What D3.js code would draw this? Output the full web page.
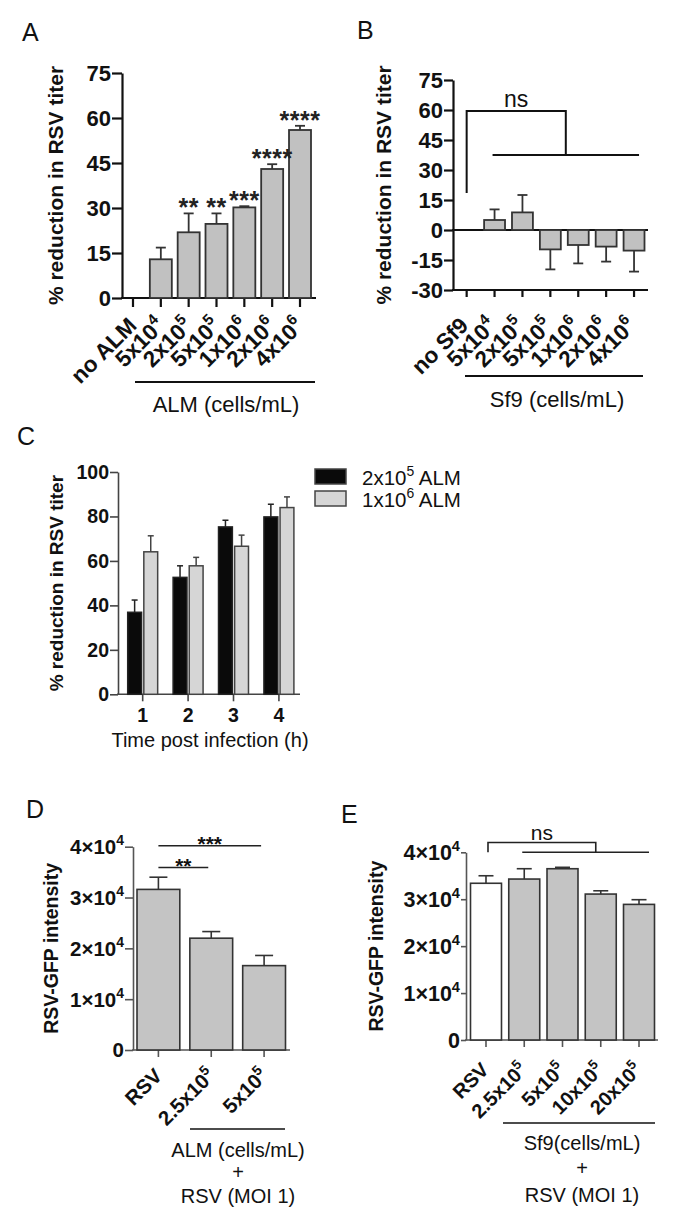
<!DOCTYPE html>
<html>
<head>
<meta charset="utf-8">
<script src="https://cdn.jsdelivr.net/npm/d3@7"></script>
<style>
  body { margin: 0; background: #fff; }
  svg { display: block; font-family: 'Liberation Sans', Arial, sans-serif; }
  text { white-space: pre; }
</style>
</head>
<body>
<svg width="675" height="1229"></svg>
<script>
// panel A - ALM dose
var aCats = ['no ALM', '5x10^4', '2x10^5', '5x10^5', '1x10^6', '2x10^6', '4x10^6'];
var aMeans = [0, 12.9, 21.9, 24.7, 30.2, 43.0, 56.0];
var aErr = [0, 3.9, 6.3, 3.5, 0.4, 1.6, 1.4];
var aStars = ['', '', '**', '**', '***', '****', '****'];
var aTicks = [0, 15, 30, 45, 60, 75];

// panel B - Sf9 dose
var bCats = ['no Sf9', '5x10^4', '2x10^5', '5x10^5', '1x10^6', '2x10^6', '4x10^6'];
var bMeans = [0, 5.0, 8.8, -9.7, -7.5, -8.3, -10.3];
var bErr = [0, 5.3, 8.7, 10.0, 9.2, 7.5, 10.5];
var bTicks = [-30, -15, 0, 15, 30, 45, 60, 75];

// panel C - time course
var cHours = ['1', '2', '3', '4'];
var cSeries = ['2x10^5 ALM', '1x10^6 ALM'];
var cLow = [36.9, 52.6, 75.3, 79.8];
var cLowErr = [5.5, 5.2, 3.0, 5.7];
var cHigh = [64.1, 57.8, 66.6, 84.0];
var cHighErr = [7.2, 3.8, 5.0, 4.8];
var cTicks = [0, 20, 40, 60, 80, 100];

// panel D - GFP intensity, ALM
var dCats = ['RSV', '2.5x10^5', '5x10^5'];
var dMeans = [31600, 22000, 16600];
var dErr = [2400, 1300, 2000];
var dTicks = [0, 10000, 20000, 30000, 40000];
var dSigFrom = ['RSV', 'RSV'];
var dSigTo = ['2.5x10^5', '5x10^5'];
var dSigLevel = [35900, 40200];
var dSigLabel = ['**', '***'];

// panel E - GFP intensity, Sf9
var eCats = ['RSV', '2.5x10^5', '5x10^5', '10x10^5', '20x10^5'];
var eMeans = [33400, 34300, 36500, 31100, 28900];
var eErr = [1600, 2200, 300, 700, 1000];
var eTicks = [0, 10000, 20000, 30000, 40000];

var svg = d3.select('svg');

// "5x10^4" -> 5x10 with a raised 4
function addSup(t, str, fs) {
  var m = str.match(/^([^\^]*)\^(\S+)(.*)$/);
  if (!m) { t.text(str); return; }
  t.append('tspan').text(m[1]);
  t.append('tspan').attr('dy', -0.42 * fs).attr('font-size', fs * 0.68).text(m[2]);
  if (m[3]) t.append('tspan').attr('dy', 0.42 * fs).text(m[3]);
}

function sciFmt(v) { return v === 0 ? '0' : (v / 10000) + '\u00d710^4'; }

function yAxis(y, ticks, x, o) {
  var g = svg.append('g').attr('transform', 'translate(' + x + ',0)');
  g.call(d3.axisLeft(y).tickValues(ticks).tickSize(o.tick).tickSizeOuter(0).tickFormat(''));
  g.select('.domain').attr('stroke', o.color).attr('stroke-width', o.sw);
  g.selectAll('.tick line').attr('stroke', o.color).attr('stroke-width', o.sw);
  g.selectAll('text.lbl').data(ticks).enter().append('text')
    .attr('class', 'lbl')
    .attr('x', -o.tick - 1)
    .attr('y', d => y(d))
    .attr('dy', '0.36em')
    .attr('text-anchor', 'end')
    .attr('font-weight', 'bold')
    .attr('font-size', o.fs)
    .attr('fill', '#111')
    .each(function (d) { addSup(d3.select(this), o.fmt ? o.fmt(d) : String(d), o.fs); });
}

function hLine(x1, x2, yy, sw, color) {
  svg.append('line').attr('x1', x1).attr('x2', x2).attr('y1', yy).attr('y2', yy)
    .attr('stroke', color || '#111').attr('stroke-width', sw);
}

function xTicks(x, cats, yy, len, sw, color) {
  svg.append('g').selectAll('line').data(cats).enter().append('line')
    .attr('x1', c => x(c) + x.bandwidth() / 2).attr('x2', c => x(c) + x.bandwidth() / 2)
    .attr('y1', yy).attr('y2', yy + len)
    .attr('stroke', color).attr('stroke-width', sw);
}

function rotLabels(x, cats, dx, yy, fs) {
  svg.append('g').selectAll('text').data(cats).enter().append('text')
    .attr('transform', c => 'translate(' + (x(c) + x.bandwidth() / 2 + dx) + ',' + yy + ') rotate(-45)')
    .attr('text-anchor', 'end')
    .attr('font-weight', 'bold')
    .attr('font-size', fs)
    .attr('fill', '#111')
    .each(function (c) { addSup(d3.select(this), c, fs); });
}

function bars(x, y, cats, vals, errs, o) {
  var g = svg.append('g');
  var idx = d3.range(cats.length).filter(i => vals[i] !== 0);
  var w = o.width || x.bandwidth();
  var off = o.sub || 0;
  g.selectAll('rect').data(idx).enter().append('rect')
    .attr('x', i => x(cats[i]) + off)
    .attr('width', w)
    .attr('y', i => y(Math.max(0, vals[i])))
    .attr('height', i => Math.abs(y(vals[i]) - y(0)))
    .attr('fill', i => (typeof o.fill === 'function' ? o.fill(i) : o.fill))
    .attr('stroke', o.stroke).attr('stroke-width', o.sw);
  var cx = i => x(cats[i]) + off + w / 2;
  var tip = i => y(vals[i] + (vals[i] < 0 ? -errs[i] : errs[i]));
  g.selectAll('line.err').data(idx).enter().append('line')
    .attr('class', 'err')
    .attr('x1', cx).attr('x2', cx)
    .attr('y1', i => y(vals[i])).attr('y2', tip)
    .attr('stroke', o.stroke).attr('stroke-width', o.sw);
  g.selectAll('line.cap').data(idx).enter().append('line')
    .attr('class', 'cap')
    .attr('x1', i => cx(i) - o.cap / 2).attr('x2', i => cx(i) + o.cap / 2)
    .attr('y1', tip).attr('y2', tip)
    .attr('stroke', o.stroke).attr('stroke-width', o.sw);
}

function label(txt, x, y, fs, opts) {
  opts = opts || {};
  var t = svg.append('text').attr('x', x).attr('y', y)
    .attr('font-size', fs)
    .attr('text-anchor', opts.anchor || 'middle')
    .attr('font-weight', opts.bold ? 'bold' : 'normal')
    .attr('fill', '#111');
  if (opts.rotate) t.attr('transform', 'rotate(-90,' + x + ',' + y + ')');
  addSup(t, txt, fs);
  return t;
}

// ---------------- panel A ----------------
var yA = d3.scaleLinear().domain([0, 75]).range([298, 73]);
var xA = d3.scaleBand().domain(aCats).range([122, 311]).paddingInner(0.21);
label('A', 22, 41, 25, { anchor: 'start' });
yAxis(yA, aTicks, 122, { tick: 10, sw: 2.2, fs: 22, color: '#111' });
hLine(121, 316, yA(0), 2.2);
xTicks(xA, aCats, yA(0), 9, 2.2, '#111');
bars(xA, yA, aCats, aMeans, aErr, { fill: '#c1c1c1', stroke: '#333', sw: 1.8, cap: 10 });
svg.append('g').selectAll('text').data(aCats).enter().append('text')
  .attr('x', c => xA(c) + xA.bandwidth() / 2)
  .attr('y', (c, i) => yA(aMeans[i] + aErr[i]) + 3)
  .attr('text-anchor', 'middle')
  .attr('font-size', 25)
  .attr('font-weight', 'bold')
  .attr('letter-spacing', 0.5)
  .attr('fill', '#222')
  .text((c, i) => aStars[i]);
rotLabels(xA, aCats, 5, 327, 22.5);
hLine(135, 315, 382, 1.8);
label('ALM (cells/mL)', 226, 412, 22);
label('% reduction in RSV titer', 63, (yA(0) + yA(75)) / 2, 21, { rotate: true, bold: true });

// ---------------- panel B ----------------
var yB = d3.scaleLinear().domain([-30, 75]).range([290, 80]);
var xB = d3.scaleBand().domain(bCats).range([456.2, 644.5]).paddingInner(0.25);
label('B', 357, 39, 25, { anchor: 'start' });
yAxis(yB, bTicks, 453, { tick: 9, sw: 2.2, fs: 22, color: '#111' });
hLine(452, 648, yB(0), 2.2);
hLine(452, 648, yB(-30), 2.2);
xTicks(xB, bCats, yB(-30), 7, 2.2, '#111');
bars(xB, yB, bCats, bMeans, bErr, { fill: '#c1c1c1', stroke: '#333', sw: 1.8, cap: 10 });
(function () {
  var c0 = xB(bCats[0]) + xB.bandwidth() / 2;
  var l0 = xB(bCats[1]) + xB.bandwidth() / 2 - 2;
  var l1 = xB(bCats[bCats.length - 1]) + xB.bandwidth() / 2 + 5;
  var mid = (l0 + l1) / 2;
  var low = yB(37.5), top = yB(59.5);
  svg.append('path')
    .attr('d', 'M' + c0 + ',' + yB(18.5) + 'V' + top + 'H' + mid + 'V' + low)
    .attr('fill', 'none').attr('stroke', '#111').attr('stroke-width', 2);
  hLine(l0, l1, low, 2);
  label('ns', (c0 + mid) / 2, top - 4, 23);
})();
rotLabels(xB, bCats, 3, 327, 22.5);
hLine(465, 643, 376, 1.8);
label('Sf9 (cells/mL)', 557, 407, 22);
label('% reduction in RSV titer', 391, (yB(-30) + yB(75)) / 2, 21, { rotate: true, bold: true });

// ---------------- panel C ----------------
var yC = d3.scaleLinear().domain([0, 100]).range([694.3, 472]);
var xC = d3.scaleBand().domain(cHours).range([127.7, 293.9]).paddingInner(0.34);
var xC2 = d3.scaleBand().domain(cSeries).range([0, xC.bandwidth()]).paddingInner(0.14);
var cColors = ['#0a0a0a', '#d6d6d6'];
label('C', 17, 445, 25, { anchor: 'start' });
yAxis(yC, cTicks, 118, { tick: 8, sw: 1.6, fs: 19.5, color: '#444' });
hLine(117, 300, yC(0), 1.6, '#444');
xTicks(xC, cHours, yC(0), 7, 1.6, '#444');
bars(xC, yC, cHours, cLow, cLowErr, { fill: cColors[0], stroke: '#222', sw: 1.5, cap: 6, sub: xC2(cSeries[0]), width: xC2.bandwidth() });
bars(xC, yC, cHours, cHigh, cHighErr, { fill: cColors[1], stroke: '#444', sw: 1.5, cap: 6, sub: xC2(cSeries[1]), width: xC2.bandwidth() });
svg.append('g').selectAll('text').data(cHours).enter().append('text')
  .attr('x', h => xC(h) + xC.bandwidth() / 2)
  .attr('y', 722)
  .attr('text-anchor', 'middle')
  .attr('font-weight', 'bold')
  .attr('font-size', 19.5)
  .attr('fill', '#111')
  .text(h => h);
label('Time post infection (h)', 210, 747, 20);
label('% reduction in RSV titer', 63, (yC(0) + yC(100)) / 2, 19, { rotate: true, bold: true });
var leg = svg.append('g').selectAll('g').data(cSeries).enter().append('g')
  .attr('transform', (s, i) => 'translate(315,' + (469 + i * 22) + ')');
leg.append('rect').attr('width', 31).attr('height', 15)
  .attr('fill', (s, i) => cColors[i]).attr('stroke', '#444').attr('stroke-width', 1.5);
leg.append('text').attr('x', 47).attr('y', 16)
  .attr('font-size', 20.5).attr('fill', '#111')
  .each(function (s) { addSup(d3.select(this), s, 20.5); });

// ---------------- panel D ----------------
var yD = d3.scaleLinear().domain([0, 40000]).range([1050, 846.7]);
var xD = d3.scaleBand().domain(dCats).range([137, 285.5]).paddingInner(0.19);
label('D', 26, 818, 25, { anchor: 'start' });
yAxis(yD, dTicks, 133, { tick: 8, sw: 1.6, fs: 20.5, color: '#555', fmt: sciFmt });
hLine(132, 290, yD(0), 1.6, '#555');
xTicks(xD, dCats, yD(0), 7, 1.6, '#555');
bars(xD, yD, dCats, dMeans, dErr, { fill: '#c4c4c4', stroke: '#333', sw: 1.6, cap: 18 });
dSigLevel.forEach(function (lv, i) {
  var x1 = xD(dSigFrom[i]) + xD.bandwidth() / 2;
  var x2 = xD(dSigTo[i]) + xD.bandwidth() / 2 - 3;
  hLine(x1, x2, yD(lv), 1.6, '#222');
  label(dSigLabel[i], (x1 + x2) / 2, yD(lv) + 5, 21, { bold: true });
});
rotLabels(xD, dCats, 5, 1077, 20.5);
hLine(190, 285, 1129, 1.6);
label('ALM (cells/mL)', 238, 1157, 20);
label('+', 238, 1179, 20);
label('RSV (MOI 1)', 238, 1203, 20);
label('RSV-GFP intensity', 58, (yD(0) + yD(40000)) / 2, 19.5, { rotate: true, bold: true });

// ---------------- panel E ----------------
var yE = d3.scaleLinear().domain([0, 40000]).range([1040, 852.3]);
var xE = d3.scaleBand().domain(eCats).range([470.5, 654.5]).paddingInner(0.19);
label('E', 341, 823, 25, { anchor: 'start' });
yAxis(yE, eTicks, 466, { tick: 5, sw: 1.6, fs: 21.5, color: '#555', fmt: sciFmt });
hLine(465, 658, yE(0), 1.6, '#555');
xTicks(xE, eCats, yE(0), 7, 1.6, '#555');
bars(xE, yE, eCats, eMeans, eErr, { fill: i => (i === 0 ? '#ffffff' : '#c4c4c4'), stroke: '#333', sw: 1.6, cap: 15 });
(function () {
  var c0 = xE(eCats[0]) + xE.bandwidth() / 2 + 2;
  var l0 = xE(eCats[1]) + xE.bandwidth() / 2 - 2;
  var l1 = xE(eCats[eCats.length - 1]) + xE.bandwidth() / 2 + 10;
  var mid = l0 + (l1 - l0) * 0.58;
  var low = yE(40000), top = yE(42100);
  svg.append('path')
    .attr('d', 'M' + c0 + ',' + low + 'V' + top + 'H' + mid + 'V' + low)
    .attr('fill', 'none').attr('stroke', '#222').attr('stroke-width', 1.6);
  hLine(l0, l1, low, 1.6, '#222');
  label('ns', (c0 + mid) / 2, top - 2, 21);
})();
rotLabels(xE, eCats, 4, 1071, 20);
hLine(503, 655, 1123, 1.6);
label('Sf9(cells/mL)', 582, 1150, 20);
label('+', 582, 1175, 20);
label('RSV (MOI 1)', 582, 1202, 20);
label('RSV-GFP intensity', 383, (yE(0) + yE(40000)) / 2, 19.5, { rotate: true, bold: true });
</script>
</body>
</html>
